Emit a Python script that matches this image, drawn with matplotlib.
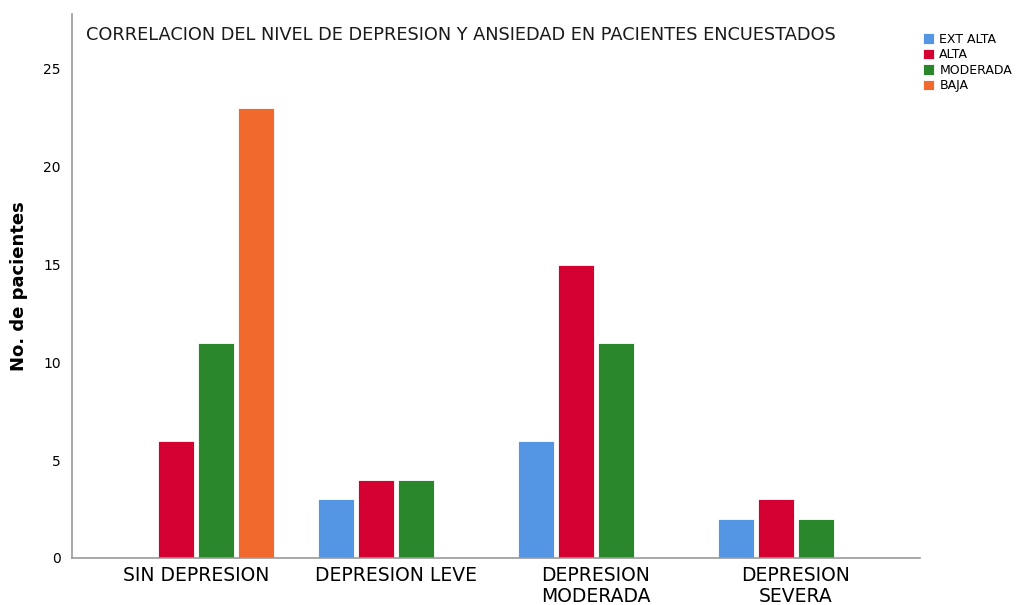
import matplotlib.pyplot as plt
import numpy as np

categories = ['SIN DEPRESION', 'DEPRESION LEVE', 'DEPRESION\nMODERADA', 'DEPRESION\nSEVERA']
series = ['EXT ALTA', 'ALTA', 'MODERADA', 'BAJA']
ext_alta = [0, 3, 6, 2]
alta = [6, 4, 15, 3]
moderada = [11, 4, 11, 2]
baja = [23, 0, 0, 0]

colors = ['#5596E4', '#D50032', '#2A862A', '#F1692D']

fig = plt.figure(figsize=(10.19, 6.05), dpi=100)
ax = fig.add_axes([0.0707, 0.0777, 0.832, 0.899])

x = np.arange(len(categories))
step = 0.2
width = 0.18
for i, (name, vals) in enumerate(zip(series, [ext_alta, alta, moderada, baja])):
    ax.bar(x + (i - 1.5) * step, vals, width, color=colors[i], label=name,
           edgecolor='white', linewidth=0.6)

ax.set_xlim(-0.62, 3.62)
ax.set_ylim(0, 27.8)
ax.set_yticks([0, 5, 10, 15, 20, 25])
ax.set_xticks(x)
ax.set_xticklabels(categories, fontsize=13.5, linespacing=1.1)
ax.tick_params(axis='x', length=0, pad=6)
ax.tick_params(axis='y', length=0, labelsize=10, pad=8)

for s in ['top', 'right']:
    ax.spines[s].set_visible(False)
for s in ['left', 'bottom']:
    ax.spines[s].set_color('#9a9a9a')
    ax.spines[s].set_linewidth(1.2)

ax.set_ylabel('No. de pacientes', fontsize=13, fontweight='bold')
ax.yaxis.set_label_coords(-0.052, 0.5)

ax.text(0.017, 0.962, 'CORRELACION DEL NIVEL DE DEPRESION Y ANSIEDAD EN PACIENTES ENCUESTADOS',
        transform=ax.transAxes, fontsize=12.8, ha='left', va='center', color='#1a1a1a')

ax.legend(loc='upper left', bbox_to_anchor=(0.998, 0.975), frameon=False, fontsize=9,
          handlelength=0.9, handleheight=0.9, handletextpad=0.4, labelspacing=0.2,
          borderaxespad=0)

fig.savefig('out.png', dpi=100)
